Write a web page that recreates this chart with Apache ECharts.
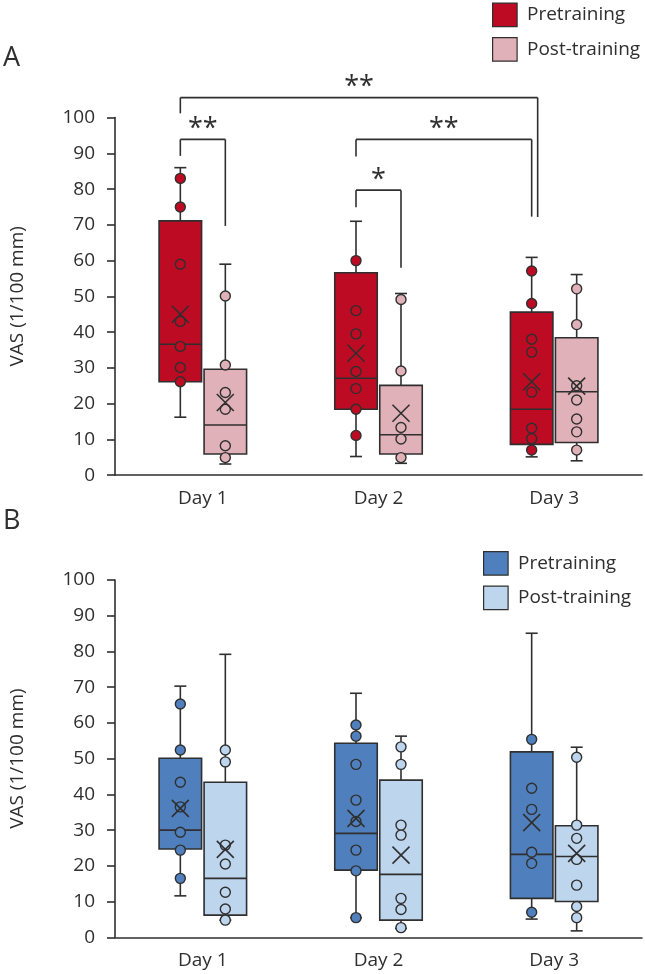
<!DOCTYPE html>
<html><head><meta charset="utf-8">
<script src="https://cdn.jsdelivr.net/npm/echarts@6/dist/echarts.min.js"></script>
<style>html,body{margin:0;padding:0;background:#fff}#c{width:645px;height:974px}</style>
</head><body><div id="c"></div>
<script>
// ---------- data ----------
const days = ['Day 1', 'Day 2', 'Day 3'];
const seriesNames = ['Pretraining', 'Post-training'];
const axisTitle = 'VAS (1/100 mm)';
const panelLabels = ['A', 'B'];

// box stats per day: [lowWhisker, Q1, median, Q3, highWhisker]
const aPreBox  = [[16.2, 26.1, 36.6, 71.1, 86.0], [5.2, 18.4, 27.1, 56.6, 71.0], [5.1, 8.6, 18.4, 45.6, 60.9]];
const aPostBox = [[3.1, 5.9, 14.0, 29.6, 59.0], [3.3, 5.9, 11.3, 25.1, 50.8], [4.0, 9.1, 23.3, 38.4, 56.1]];
const aPreMean  = [45.0, 34.1, 26.1];
const aPostMean = [20.3, 17.3, 24.9];
const aPrePts  = [[83.0, 75.0, 59.0, 43.0, 36.0, 30.1, 26.1], [60.0, 46.0, 39.5, 29.0, 24.2, 18.4, 11.1], [57.1, 48.0, 38.0, 34.4, 23.2, 13.1, 10.2, 7.0]];
const aPostPts = [[50.1, 30.8, 23.1, 18.4, 8.2, 4.9], [49.1, 29.1, 13.3, 10.1, 4.9], [52.1, 42.1, 25.0, 21.0, 15.7, 12.1, 7.0]];

const bPreBox  = [[11.6, 24.7, 30.0, 50.1, 70.3], [5.5, 18.8, 29.1, 54.3, 68.3], [5.1, 10.9, 23.2, 51.9, 85.1]];
const bPostBox = [[4.8, 6.2, 16.5, 43.4, 79.2], [2.5, 4.8, 17.6, 44.0, 56.3], [1.8, 10.0, 22.6, 31.2, 53.2]];
const bPreMean  = [36.1, 33.3, 32.1];
const bPostMean = [24.6, 23.0, 23.5];
const bPrePts  = [[65.3, 52.4, 43.4, 36.5, 29.4, 24.4, 16.5], [59.4, 56.3, 48.4, 38.4, 32.4, 24.4, 18.6, 5.5], [55.4, 41.7, 35.8, 23.8, 20.7, 7.0]];
const bPostPts = [[52.4, 49.1, 25.8, 20.5, 12.6, 7.9, 4.8], [53.3, 48.4, 31.4, 28.6, 10.9, 7.8, 2.7], [50.4, 31.4, 27.7, 21.8, 14.6, 8.6, 5.5]];

// significance brackets (panel A): from [day, group] to [day, group], bar level, left/right leg ends, label
const brackets = [
  { from: [0, 0], to: [0, 1], bar: 93.9, left: 89.3, right: 69.7, label: '**', outer: false },
  { from: [1, 0], to: [1, 1], bar: 79.7, left: 74.9, right: 58.0, label: '*',  outer: false },
  { from: [1, 0], to: [2, 0], bar: 93.9, left: 89.1, right: 72.3, label: '**', outer: false },
  { from: [0, 0], to: [2, 0], bar: 105.6, left: 101.2, right: 72.2, label: '**', outer: true }
];

// ---------- style ----------
const FONT = '"Open Sans", "Noto Sans", sans-serif';
const EDGE = '#2f2f2f';
const TXT = '#2f2f2f';
const COLORS = [['#bd0b24', '#e1b1b9'], ['#4f80bd', '#bed5ee']];
const OFFS = [-22.5, 22.5];
const BOX_W = 42.5;
const CAP = 6;
const LW = 1.6;

function L(x1, y1, x2, y2) {
  return { type: 'line', shape: { x1, y1, x2, y2 }, style: { stroke: EDGE, lineWidth: LW } };
}

function boxSeries(g, k, boxes) {
  const color = COLORS[g][k], off = OFFS[k];
  return {
    type: 'custom', name: seriesNames[k], xAxisIndex: g, yAxisIndex: g, z: 2,
    data: boxes.map((b, i) => [i].concat(b)),
    renderItem(params, api) {
      const i = api.value(0);
      const lo = api.coord([i, api.value(1)]), q1 = api.coord([i, api.value(2)]),
            md = api.coord([i, api.value(3)]), q3 = api.coord([i, api.value(4)]),
            hi = api.coord([i, api.value(5)]);
      const cx = lo[0] + off, hw = BOX_W / 2;
      return { type: 'group', children: [
        L(cx, hi[1], cx, q3[1]), L(cx, q1[1], cx, lo[1]),
        L(cx - CAP, hi[1], cx + CAP, hi[1]), L(cx - CAP, lo[1], cx + CAP, lo[1]),
        { type: 'rect', shape: { x: cx - hw, y: q3[1], width: 2 * hw, height: q1[1] - q3[1] },
          style: { fill: color, stroke: EDGE, lineWidth: LW } },
        L(cx - hw, md[1], cx + hw, md[1])
      ] };
    }
  };
}

function pointSeries(g, k, pts) {
  const data = [];
  pts.forEach((arr, i) => arr.forEach(v => data.push([i, v])));
  return {
    type: 'scatter', name: seriesNames[k], xAxisIndex: g, yAxisIndex: g, z: 3,
    data, symbol: 'circle', symbolSize: 10, symbolOffset: [OFFS[k], 0],
    itemStyle: { color: COLORS[g][k], borderColor: EDGE, borderWidth: 1.4, opacity: 1 },
    silent: true
  };
}

function meanSeries(g, k, means) {
  const off = OFFS[k];
  return {
    type: 'custom', name: seriesNames[k] + ' mean', xAxisIndex: g, yAxisIndex: g, z: 4,
    data: means.map((m, i) => [i, m]),
    renderItem(params, api) {
      const p = api.coord([api.value(0), api.value(1)]);
      const x = p[0] + off, y = p[1], s = 8.5;
      return { type: 'group', children: [L(x - s, y - s, x + s, y + s), L(x - s, y + s, x + s, y - s)] };
    }
  };
}

const bracketSeries = {
  type: 'custom', name: 'significance', xAxisIndex: 0, yAxisIndex: 0, z: 5, clip: false,
  data: brackets.map((b, i) => [i, b.bar]),
  renderItem(params, api) {
    const b = brackets[params.dataIndex];
    const x0 = api.coord([b.from[0], b.bar])[0] + OFFS[b.from[1]];
    const x1 = api.coord([b.to[0], b.bar])[0] + OFFS[b.to[1]] + (b.outer ? 6 : 0);
    const yb = api.coord([0, b.bar])[1];
    const yl = api.coord([0, b.left])[1];
    const yr = api.coord([0, b.right])[1];
    return { type: 'group', children: [
      L(x0, yb, x1, yb), L(x0, yb, x0, yl), L(x1, yb, x1, yr),
      { type: 'text', x: (x0 + x1) / 2, y: yb - 10,
        style: { text: b.label, fill: TXT, fontSize: 27, fontFamily: FONT, align: 'center', verticalAlign: 'middle' } }
    ] };
  }
};

function xAxisCfg(g) {
  return {
    type: 'category', gridIndex: g, data: days, boundaryGap: true,
    axisLine: { lineStyle: { color: EDGE, width: LW } },
    axisTick: { alignWithLabel: true, length: 8, lineStyle: { color: EDGE, width: LW } },
    axisLabel: { fontSize: 19, color: TXT, fontFamily: FONT, margin: 14 },
    splitLine: { show: false }
  };
}
function yAxisCfg(g) {
  return {
    type: 'value', gridIndex: g, min: 0, max: 100, interval: 10,
    name: axisTitle, nameLocation: 'middle', nameGap: 88,
    nameTextStyle: { fontSize: 19, color: TXT, fontFamily: FONT },
    axisLine: { show: true, lineStyle: { color: EDGE, width: LW } },
    axisTick: { show: true, length: 8, lineStyle: { color: EDGE, width: LW } },
    axisLabel: { fontSize: 19, color: TXT, fontFamily: FONT, margin: 20 },
    splitLine: { show: false }
  };
}

function legendGraphics(x, y, g) {
  const out = [];
  seriesNames.forEach((n, k) => {
    const yy = y + k * 34.5;
    out.push({ type: 'rect', left: x, top: yy, shape: { x: 0, y: 0, width: 24.5, height: 23.5 },
      style: { fill: COLORS[g][k], stroke: EDGE, lineWidth: 1.2 } });
    out.push({ type: 'text', x: x + 35, y: yy + 12.5,
      style: { text: n, fill: TXT, fontSize: 19, fontFamily: FONT, align: 'left', verticalAlign: 'middle' } });
  });
  return out;
}

const chart = echarts.init(document.getElementById('c'), null, { renderer: 'canvas' });
chart.setOption({
  backgroundColor: '#ffffff',
  animation: false,
  textStyle: { fontFamily: FONT },
  grid: [
    { left: 112, width: 530, top: 117.6, height: 357.5 },
    { left: 112, width: 530, top: 580, height: 357.3 }
  ],
  xAxis: [xAxisCfg(0), xAxisCfg(1)],
  yAxis: [yAxisCfg(0), yAxisCfg(1)],
  graphic: [
    { type: 'text', x: 3, y: 58, style: { text: panelLabels[0], fill: TXT, fontSize: 27, fontFamily: FONT, verticalAlign: 'middle' } },
    { type: 'text', x: 3, y: 521, style: { text: panelLabels[1], fill: TXT, fontSize: 27, fontFamily: FONT, verticalAlign: 'middle' } }
  ].concat(legendGraphics(492, 2.5, 0), legendGraphics(483, 551, 1)),
  series: [
    boxSeries(0, 0, aPreBox), boxSeries(0, 1, aPostBox),
    pointSeries(0, 0, aPrePts), pointSeries(0, 1, aPostPts),
    meanSeries(0, 0, aPreMean), meanSeries(0, 1, aPostMean),
    bracketSeries,
    boxSeries(1, 0, bPreBox), boxSeries(1, 1, bPostBox),
    pointSeries(1, 0, bPrePts), pointSeries(1, 1, bPostPts),
    meanSeries(1, 0, bPreMean), meanSeries(1, 1, bPostMean)
  ]
});
</script></body></html>
